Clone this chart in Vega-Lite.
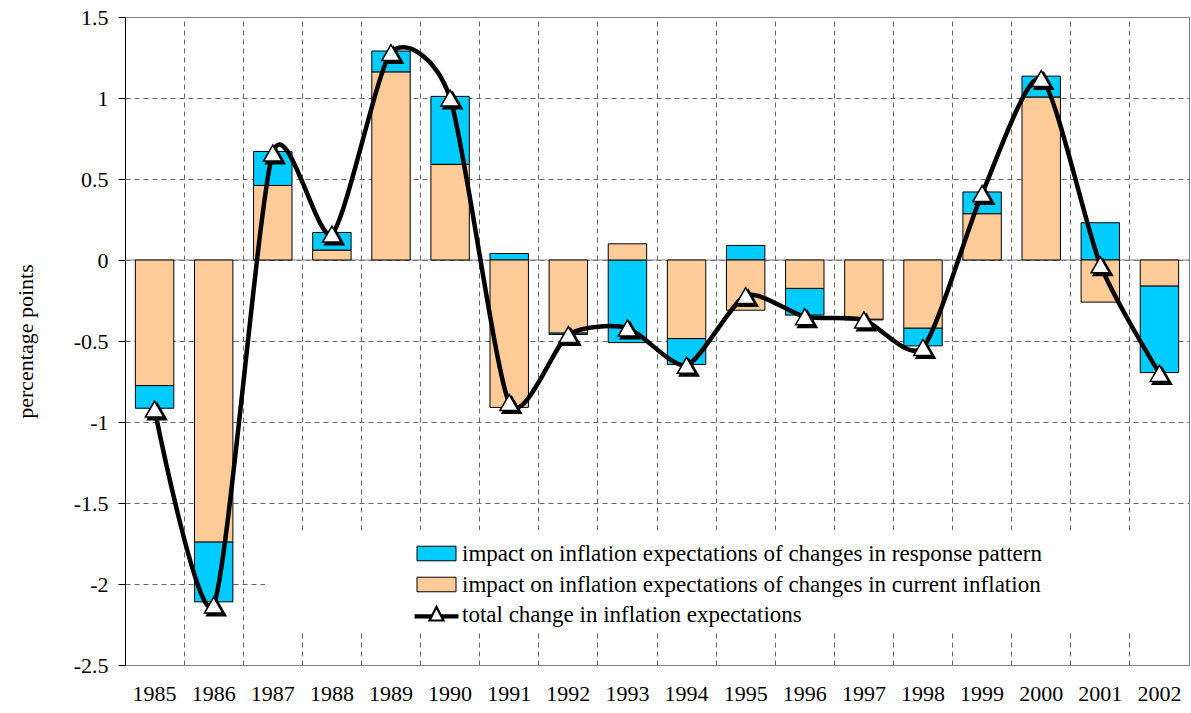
{
  "$schema": "https://vega.github.io/schema/vega-lite/v6.json",
  "width": 1064,
  "height": 648,
  "autosize": {"type": "none"},
  "padding": {"left": 125, "top": 17, "right": 2, "bottom": 48},
  "background": "white",
  "config": {
    "font": "Liberation Serif",
    "view": {"stroke": "#808080", "strokeWidth": 1},
    "axis": {"labelFont": "Liberation Serif", "titleFont": "Liberation Serif", "labelColor": "black", "titleColor": "black"},
    "legend": {"labelFont": "Liberation Serif", "labelFontSize": 23, "labelColor": "black", "labelLimit": 0}
  },
  "datasets": {
    "bars": [
      {"year": "1985", "series": "impact on inflation expectations of changes in response pattern", "value": -0.14},
      {"year": "1985", "series": "impact on inflation expectations of changes in current inflation", "value": -0.775},
      {"year": "1986", "series": "impact on inflation expectations of changes in response pattern", "value": -0.37},
      {"year": "1986", "series": "impact on inflation expectations of changes in current inflation", "value": -1.74},
      {"year": "1987", "series": "impact on inflation expectations of changes in response pattern", "value": 0.21},
      {"year": "1987", "series": "impact on inflation expectations of changes in current inflation", "value": 0.46},
      {"year": "1988", "series": "impact on inflation expectations of changes in response pattern", "value": 0.11},
      {"year": "1988", "series": "impact on inflation expectations of changes in current inflation", "value": 0.06},
      {"year": "1989", "series": "impact on inflation expectations of changes in response pattern", "value": 0.13},
      {"year": "1989", "series": "impact on inflation expectations of changes in current inflation", "value": 1.16},
      {"year": "1990", "series": "impact on inflation expectations of changes in response pattern", "value": 0.42},
      {"year": "1990", "series": "impact on inflation expectations of changes in current inflation", "value": 0.59},
      {"year": "1991", "series": "impact on inflation expectations of changes in response pattern", "value": 0.04},
      {"year": "1991", "series": "impact on inflation expectations of changes in current inflation", "value": -0.91},
      {"year": "1992", "series": "impact on inflation expectations of changes in response pattern", "value": -0.01},
      {"year": "1992", "series": "impact on inflation expectations of changes in current inflation", "value": -0.45},
      {"year": "1993", "series": "impact on inflation expectations of changes in response pattern", "value": -0.51},
      {"year": "1993", "series": "impact on inflation expectations of changes in current inflation", "value": 0.1},
      {"year": "1994", "series": "impact on inflation expectations of changes in response pattern", "value": -0.16},
      {"year": "1994", "series": "impact on inflation expectations of changes in current inflation", "value": -0.485},
      {"year": "1995", "series": "impact on inflation expectations of changes in response pattern", "value": 0.09},
      {"year": "1995", "series": "impact on inflation expectations of changes in current inflation", "value": -0.31},
      {"year": "1996", "series": "impact on inflation expectations of changes in response pattern", "value": -0.165},
      {"year": "1996", "series": "impact on inflation expectations of changes in current inflation", "value": -0.175},
      {"year": "1997", "series": "impact on inflation expectations of changes in response pattern", "value": -0.005},
      {"year": "1997", "series": "impact on inflation expectations of changes in current inflation", "value": -0.365},
      {"year": "1998", "series": "impact on inflation expectations of changes in response pattern", "value": -0.11},
      {"year": "1998", "series": "impact on inflation expectations of changes in current inflation", "value": -0.42},
      {"year": "1999", "series": "impact on inflation expectations of changes in response pattern", "value": 0.135},
      {"year": "1999", "series": "impact on inflation expectations of changes in current inflation", "value": 0.285},
      {"year": "2000", "series": "impact on inflation expectations of changes in response pattern", "value": 0.13},
      {"year": "2000", "series": "impact on inflation expectations of changes in current inflation", "value": 1.005},
      {"year": "2001", "series": "impact on inflation expectations of changes in response pattern", "value": 0.23},
      {"year": "2001", "series": "impact on inflation expectations of changes in current inflation", "value": -0.26},
      {"year": "2002", "series": "impact on inflation expectations of changes in response pattern", "value": -0.535},
      {"year": "2002", "series": "impact on inflation expectations of changes in current inflation", "value": -0.16}
    ],
    "total": [
      {"year": "1985", "total": -0.92},
      {"year": "1986", "total": -2.13},
      {"year": "1987", "total": 0.66},
      {"year": "1988", "total": 0.16},
      {"year": "1989", "total": 1.28},
      {"year": "1990", "total": 1.0},
      {"year": "1991", "total": -0.88},
      {"year": "1992", "total": -0.46},
      {"year": "1993", "total": -0.42},
      {"year": "1994", "total": -0.65},
      {"year": "1995", "total": -0.22},
      {"year": "1996", "total": -0.35},
      {"year": "1997", "total": -0.37},
      {"year": "1998", "total": -0.54},
      {"year": "1999", "total": 0.41},
      {"year": "2000", "total": 1.12},
      {"year": "2001", "total": -0.03},
      {"year": "2002", "total": -0.70}
    ]
  },
  "layer": [
    {
      "data": {"values": [{}]},
      "mark": {"type": "rule", "color": "#808080", "strokeWidth": 1},
      "encoding": {"y": {"datum": 0, "type": "quantitative", "title": "percentage points"}}
    },
    {
      "data": {"name": "bars"},
      "mark": {"type": "bar", "width": {"band": 0.65}, "stroke": "black", "strokeWidth": 1},
      "encoding": {
        "x": {
          "field": "year", "type": "ordinal",
          "scale": {"paddingInner": 0, "paddingOuter": 0},
          "axis": {"orient": "bottom", "title": null, "grid": false, "ticks": false, "labelAngle": 0, "labelFontSize": 22, "labelPadding": 18, "domainColor": "#808080"}
        },
        "y": {
          "field": "value", "type": "quantitative", "stack": "zero",
          "scale": {"domain": [-2.5, 1.5], "nice": false, "zero": false},
          "title": "percentage points",
          "axis": {"values": [-2.5, -2, -1.5, -1, -0.5, 0, 0.5, 1, 1.5], "labelExpr": "'' + datum.value", "grid": true, "gridDash": [5, 4], "gridColor": "#666666", "domainColor": "black", "tickColor": "black", "tickSize": 7, "labelFontSize": 22, "labelPadding": 10, "titleFontSize": 22, "titleFontWeight": "normal", "titlePadding": 36}
        },
        "color": {
          "field": "series", "type": "nominal",
          "scale": {"domain": ["impact on inflation expectations of changes in response pattern", "impact on inflation expectations of changes in current inflation"], "range": ["#00CCFF", "#FFCC99"]},
          "legend": {"orient": "none", "legendX": 300, "legendY": 525, "title": null, "symbolType": "M-2.6,-0.97L2.6,-0.97L2.6,0.97L-2.6,0.97Z", "symbolSize": 225, "symbolStrokeColor": "black", "symbolStrokeWidth": 1, "symbolOpacity": 1, "labelOffset": 14, "rowPadding": 7, "padding": 0}
        },
        "order": {"field": "series", "sort": "ascending"}
      }
    },
    {
      "data": {"values": [{}]},
      "mark": {"type": "rect", "fill": "white"},
      "encoding": {
        "x": {"datum": "1987", "type": "ordinal", "bandPosition": 0.37, "axis": null},
        "x2": {"datum": "2002", "bandPosition": 1},
        "y": {"datum": -1.67, "type": "quantitative", "title": "percentage points"},
        "y2": {"datum": -2.3}
      }
    },
    {
      "data": {"name": "total"},
      "mark": {"type": "line", "interpolate": "cardinal", "tension": 0.3, "strokeWidth": 4.5},
      "encoding": {
        "x": {
          "field": "year", "type": "ordinal",
          "axis": {"orient": "top", "title": null, "grid": true, "bandPosition": 0, "labels": false, "ticks": false, "domainColor": "#808080", "gridDash": [5, 4], "gridColor": "#666666"}
        },
        "y": {"field": "total", "type": "quantitative", "title": "percentage points"},
        "stroke": {
          "datum": "total change in inflation expectations",
          "scale": {"range": ["black"]},
          "legend": {"orient": "none", "legendX": 300, "legendY": 586, "title": null, "symbolType": "M-2.93,0.1L-0.62,0.1M0.62,0.1L2.93,0.1M-2.93,0.25L-0.68,0.25M0.68,0.25L2.93,0.25M-2.93,0.4L-0.74,0.4M0.74,0.4L2.93,0.4M0,-1L0.93,0.8L-0.93,0.8Z", "symbolSize": 225, "symbolFillColor": "white", "symbolStrokeColor": "black", "symbolStrokeWidth": 2.2, "labelOffset": 14, "padding": 0}
        }
      }
    },
    {
      "data": {"name": "total"},
      "mark": {"type": "point", "shape": "triangle-up", "filled": true, "fill": "black", "stroke": "black", "size": 340, "xOffset": 2.5, "yOffset": 2.5, "opacity": 1},
      "encoding": {
        "x": {"field": "year", "type": "ordinal", "axis": null},
        "y": {"field": "total", "type": "quantitative", "title": "percentage points"}
      }
    },
    {
      "data": {"name": "total"},
      "mark": {"type": "point", "shape": "triangle-up", "filled": true, "fill": "white", "stroke": "black", "strokeWidth": 1.5, "size": 340, "opacity": 1},
      "encoding": {
        "x": {"field": "year", "type": "ordinal", "axis": null},
        "y": {"field": "total", "type": "quantitative", "title": "percentage points"}
      }
    }
  ],
  "resolve": {"axis": {"x": "independent"}}
}
